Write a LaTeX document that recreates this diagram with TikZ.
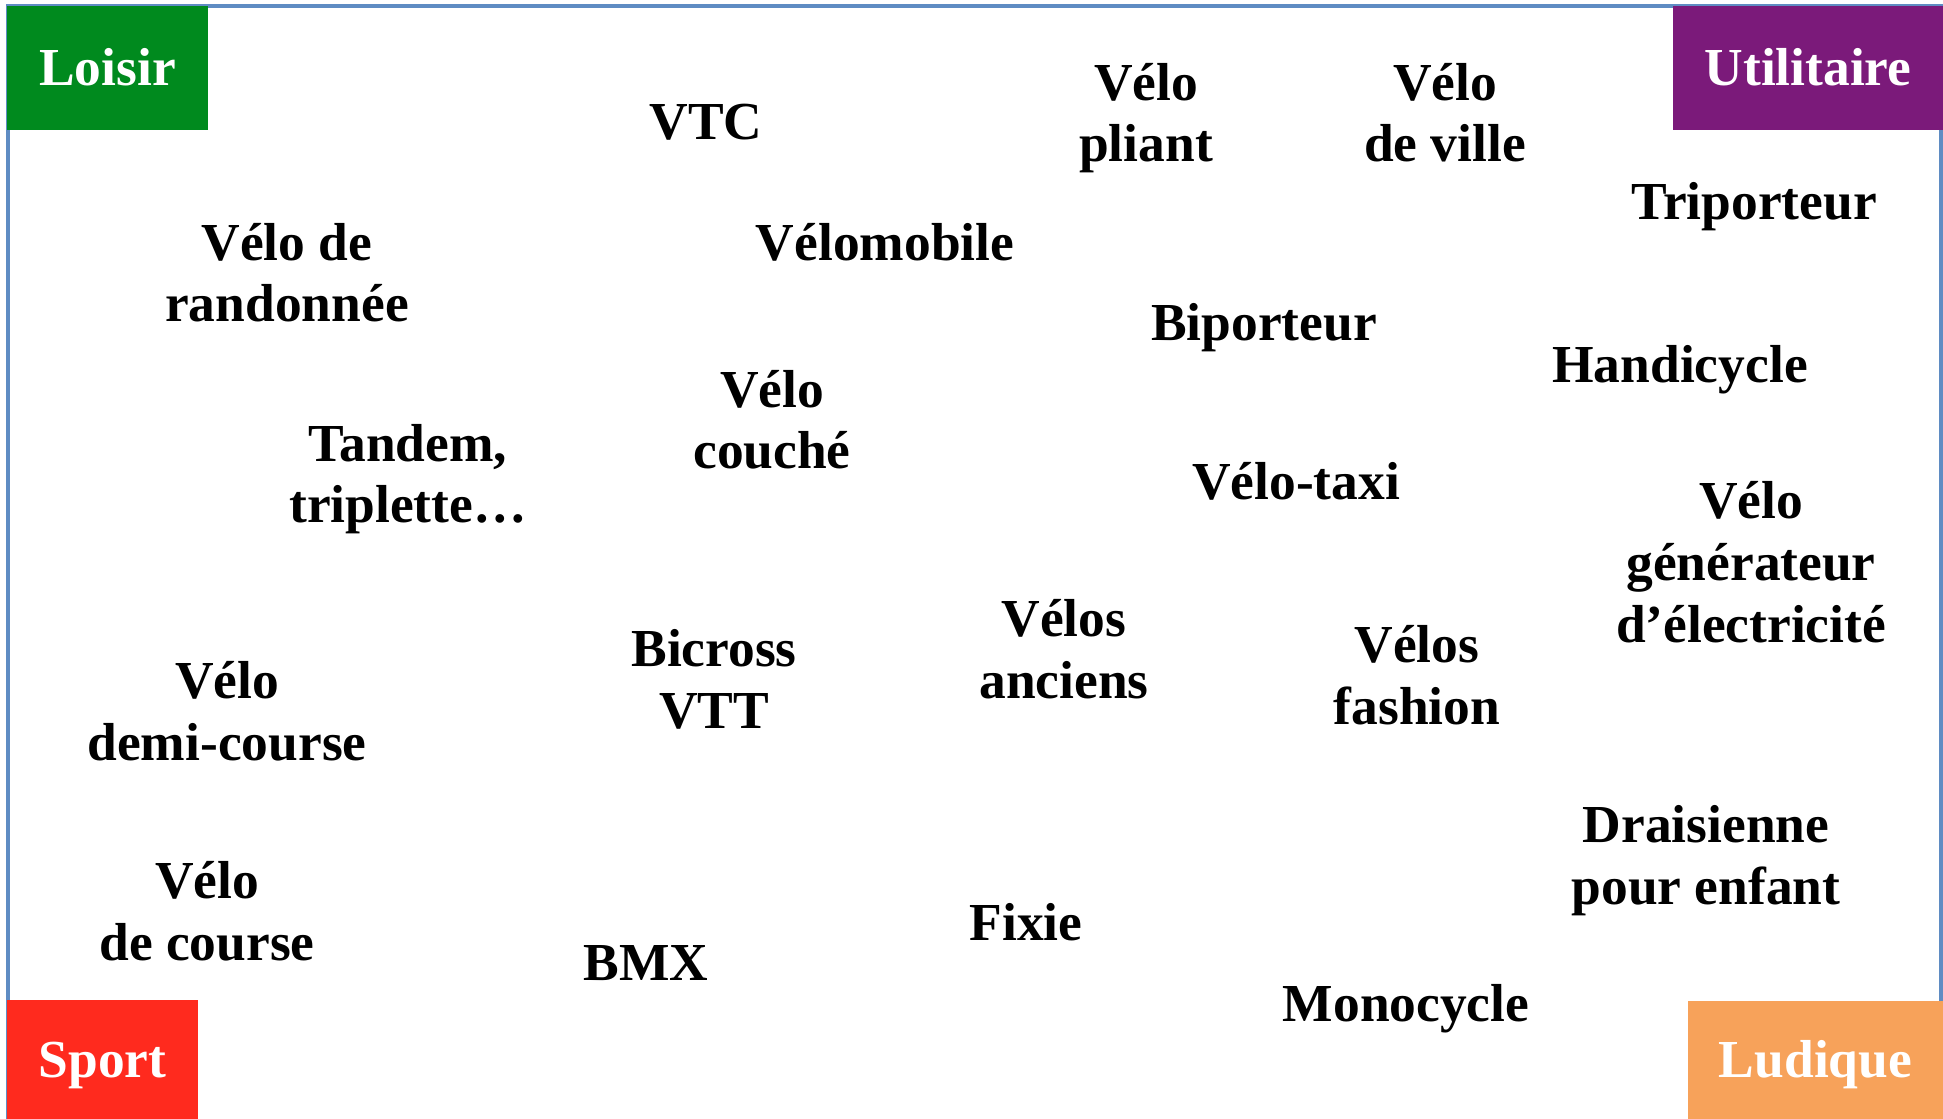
\documentclass[tikz,border=0pt]{standalone}
\usepackage{fontspec}
\setmainfont{Liberation Serif}
\definecolor{framecol}{RGB}{95,140,195}
\definecolor{loisircol}{RGB}{0,138,30}
\definecolor{utilcol}{RGB}{123,26,122}
\definecolor{sportcol}{RGB}{255,42,30}
\definecolor{ludiccol}{RGB}{247,162,90}
\begin{document}
\begin{tikzpicture}[x=0.01cm,y=-0.01cm,
  lbl/.style={font=\fontsize{15.2}{17.6}\selectfont\bfseries, align=center, anchor=base, inner sep=0pt},
  catbox/.style={rectangle, inner sep=0pt, text=white, font=\fontsize{15.2}{17.6}\selectfont\bfseries, text height=0.354cm, text depth=0pt}]
\useasboundingbox (0,0) rectangle (1943,1119);
\fill[white] (0,0) rectangle (1943,1119);
% frame
\draw[framecol, line width=0.9pt] (8,1125) -- (8,6) -- (1941,6) -- (1941,1125);
% category boxes
\node[catbox, fill=loisircol, minimum width=2.01cm, minimum height=1.24cm] (loisir) at (107.5,68) {Loisir};
\node[catbox, fill=utilcol, minimum width=2.70cm, minimum height=1.24cm] (utilitaire) at (1808,68) {Utilitaire};
\node[catbox, fill=sportcol, minimum width=1.91cm, minimum height=1.19cm] (sport) at (102.5,1059.5) {Sport};
\node[catbox, fill=ludiccol, minimum width=2.55cm, minimum height=1.18cm] (ludique) at (1815.5,1060) {Ludique};
% labels (anchor base = baseline of the last line)
\node[lbl] (vtc) at (706,140) {VTC};
\node[lbl] (pliant) at (1146,162) {Vélo\\pliant};
\node[lbl] (ville) at (1445,162) {Vélo\\de ville};
\node[lbl] (triporteur) at (1754,220) {Triporteur};
\node[lbl] (rando) at (287,322) {Vélo de\\randonnée};
\node[lbl] (velomobile) at (885,261) {Vélomobile};
\node[lbl] (biporteur) at (1264,341) {Biporteur};
\node[lbl] (handicycle) at (1680,383) {Handicycle};
\node[lbl] (couche) at (772,469) {Vélo\\couché};
\node[lbl] (tandem) at (408,523) {Tandem,\\triplette…};
\node[lbl] (taxi) at (1296,500) {Vélo-taxi};
\node[lbl] (generateur) at (1751,642) {Vélo\\générateur\\d’électricité};
\node[lbl] (anciens) at (1064,698) {Vélos\\anciens};
\node[lbl] (bicross) at (714,728) {Bicross\\VTT};
\node[lbl] (fashion) at (1417,724) {Vélos\\fashion};
\node[lbl] (demi) at (227,760) {Vélo\\demi-course};
\node[lbl] (draisienne) at (1706,904) {Draisienne\\pour enfant};
\node[lbl] (course) at (207,960) {Vélo\\de course};
\node[lbl] (fixie) at (1026,940) {Fixie};
\node[lbl] (bmx) at (646,980) {BMX};
\node[lbl] (monocycle) at (1406,1021) {Monocycle};
\end{tikzpicture}
\end{document}
